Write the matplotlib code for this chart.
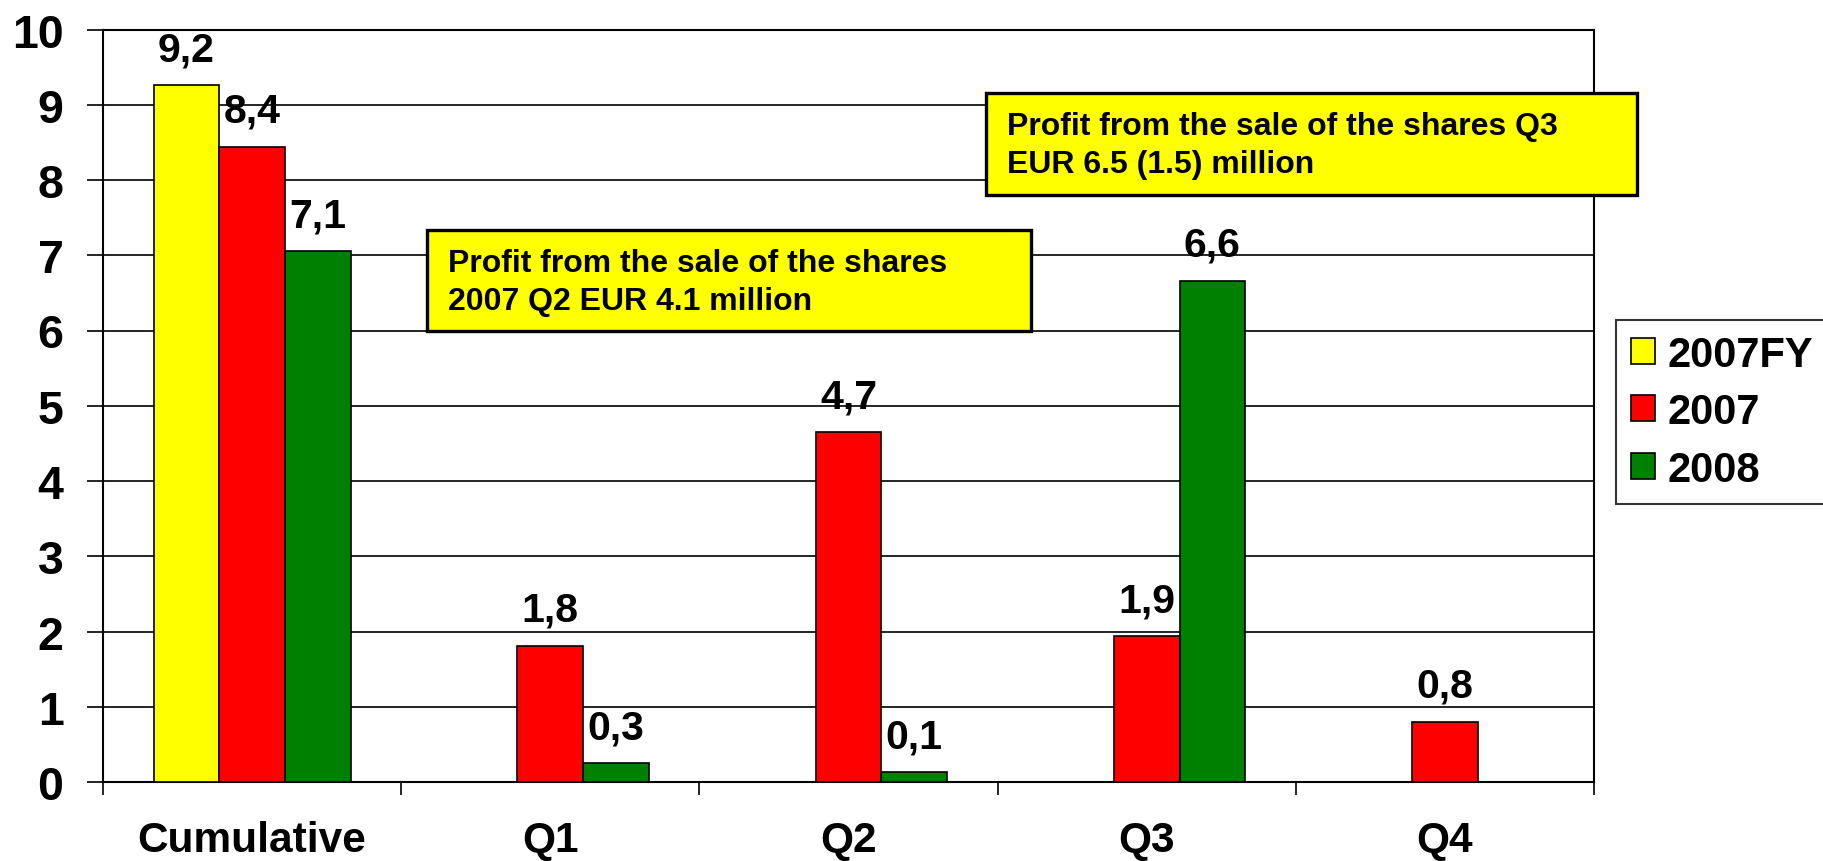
import numpy as np
import matplotlib
matplotlib.use("Agg")
import matplotlib.pyplot as plt
from matplotlib.patches import Patch, Rectangle

plt.rcParams['font.family'] = ['Liberation Sans', 'DejaVu Sans']
plt.rcParams['font.weight'] = 'bold'

# ---- data ----
categories = ["Cumulative", "Q1", "Q2", "Q3", "Q4"]
series_names = ["2007FY", "2007", "2008"]
fy2007 = [9.26, 0, 0, 0, 0]
y2007 = [8.44, 1.81, 4.65, 1.94, 0.80]
y2008 = [7.05, 0.25, 0.13, 6.66, 0]
labels_fy2007 = ["9,2", None, None, None, None]
labels_2007 = ["8,4", "1,8", "4,7", "1,9", "0,8"]
labels_2008 = ["7,1", "0,3", "0,1", "6,6", None]
yticks = list(range(0, 11))
note1 = "Profit from the sale of the shares\n2007 Q2 EUR 4.1 million"
note2 = "Profit from the sale of the shares Q3\nEUR 6.5 (1.5) million"

colors = ["#FFFF00", "#FF0000", "#008000"]

W, H = 1823, 862
fig = plt.figure(figsize=(W / 100, H / 100), dpi=100)
ax_left, ax_right, ax_bottom, ax_top = 103, 1594, 783, 30.5
ax = fig.add_axes([ax_left / W, (H - ax_bottom) / H,
                   (ax_right - ax_left) / W, (ax_bottom - ax_top) / H])

x = np.arange(len(categories))
width = 0.22
offsets = [-width, 0, width]
all_vals = [fy2007, y2007, y2008]
all_labels = [labels_fy2007, labels_2007, labels_2008]

for vals, labs, off, col in zip(all_vals, all_labels, offsets, colors):
    vals = np.asarray(vals, dtype=float)
    mask = vals > 0
    ax.bar(x[mask] + off, vals[mask], width=width, color=col,
           edgecolor='black', linewidth=1.2, zorder=3)
    for xi, v, lab in zip(x + off, vals, labs):
        if lab:
            ax.annotate(lab, (xi, v), xytext=(0, 18), textcoords='offset points',
                        ha='center', va='baseline', fontsize=29.5,
                        fontweight='bold', zorder=5)

ax.set_xlim(-0.5, len(categories) - 0.5)
ax.set_ylim(0, 10)
ax.set_yticks(yticks)
ax.set_yticklabels([str(t) for t in yticks], fontsize=33.5, fontweight='bold')
ax.tick_params(axis='y', direction='out', length=11.5, width=1.2,
               pad=17, color='black')
ax.yaxis.grid(True, color='black', linewidth=1.2, zorder=0)
ax.set_axisbelow(True)

ax.set_xticks(np.arange(-0.5, len(categories), 1.0))
ax.set_xticklabels([])
ax.tick_params(axis='x', direction='out', length=9.5, width=1.2, color='black')
for i, cat in enumerate(categories):
    ax.text(i, (ax_bottom - 852) / (ax_bottom - ax_top), cat,
            transform=ax.get_xaxis_transform(), ha='center', va='baseline',
            fontsize=30.5, fontweight='bold')

for s in ax.spines.values():
    s.set_linewidth(1.5)
    s.set_color('black')

# annotation boxes (figure pixel coords)
def note_box(x0, y0, x1, y1, text):
    r = Rectangle((x0 / W, 1 - y1 / H), (x1 - x0) / W, (y1 - y0) / H,
                  transform=fig.transFigure, facecolor='#FFFF00',
                  edgecolor='black', linewidth=2.4, zorder=10)
    fig.add_artist(r)
    lines = text.split("\n")
    for k, ln in enumerate(lines):
        fig.text((x0 + 21) / W, 1 - (y0 + 41 + 38 * k) / H, ln,
                 ha='left', va='baseline', fontsize=23, fontweight='bold',
                 zorder=11)

note_box(427, 231, 1031, 332, note1)
note_box(986, 94, 1637, 196, note2)

handles = [Patch(facecolor=c, edgecolor='black', linewidth=1.2) for c in colors]
leg = fig.legend(handles, series_names, loc='upper left',
                 bbox_to_anchor=(1616 / W, 1 - 321 / H),
                 bbox_transform=fig.transFigure,
                 prop={'size': 30, 'weight': 'bold'},
                 handlelength=0.58, handleheight=0.58, handletextpad=0.3,
                 labelspacing=0.42, borderpad=0.35, borderaxespad=0,
                 frameon=True, fancybox=False, shadow=False)
leg.get_frame().set_edgecolor('black')
leg.get_frame().set_linewidth(1.5)

fig.savefig("out.png", dpi=100)
